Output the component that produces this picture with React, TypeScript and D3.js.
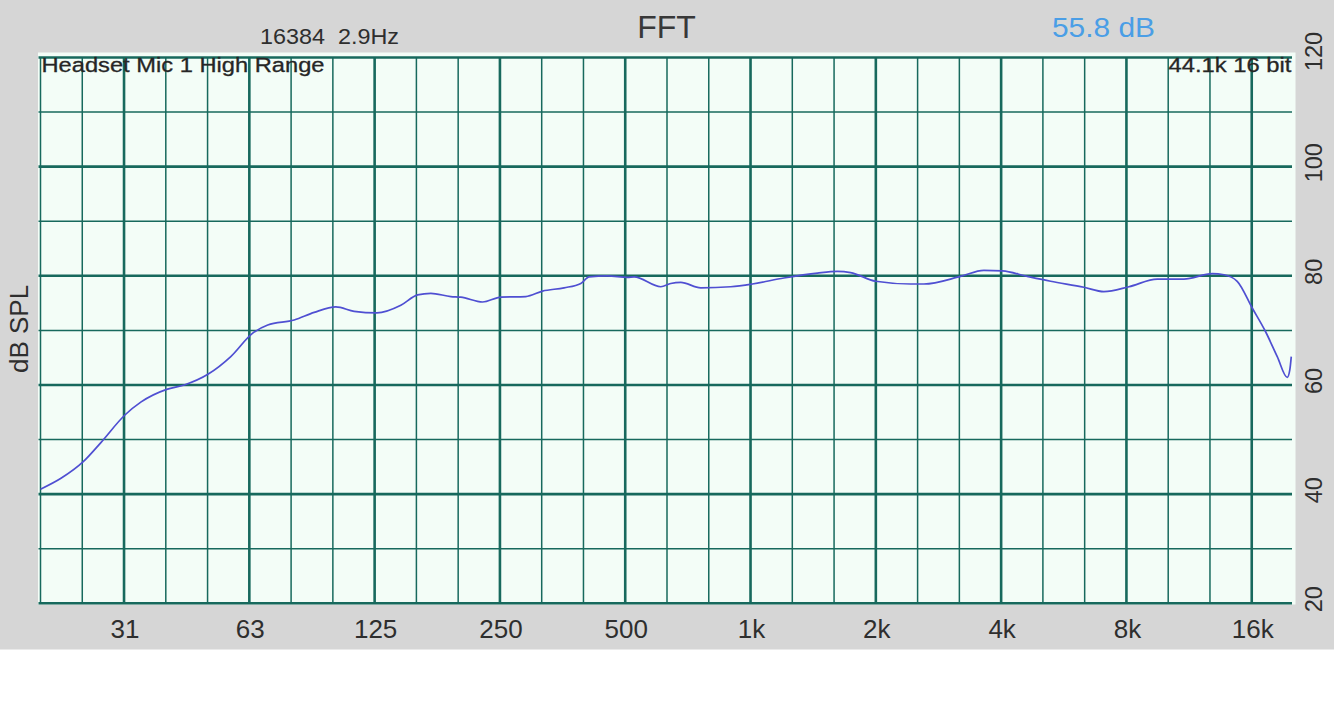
import React from "react";
import * as d3 from "d3";

// ---- data ----
const freqs: number[] = [20, 22.4, 25.3, 27.9, 31.9, 34.9, 40.2, 44.3, 50.6, 57.3, 64.7, 70.3, 81.4, 90.9, 102.5, 113.4, 128.6, 146.8, 161, 173.3, 193.6, 204.6, 230.7, 255.2, 293, 321.4, 362.2, 397.3, 415.9, 460.5, 514.3, 533.5, 618.3, 653.5, 690.7, 771.4, 910.5, 1026, 1222, 1471, 1642, 1767, 2030, 2463, 2651, 3248, 3694, 4092, 4694, 5343, 6423, 7175, 8241, 9640, 11170, 13070, 13940, 15000, 16300, 17540, 18720, 19790, 20070, 20230];
const levels: number[] = [40.9, 42.9, 45.9, 49.4, 54.5, 56.9, 59.2, 60.0, 62.0, 65.2, 69.5, 71.0, 71.9, 73.3, 74.3, 73.5, 73.2, 74.6, 76.5, 76.8, 76.2, 76.1, 75.2, 76.1, 76.2, 77.2, 77.8, 78.6, 79.8, 80.0, 79.7, 79.8, 78.0, 78.6, 78.8, 77.8, 78.0, 78.5, 79.6, 80.5, 80.8, 80.6, 79.0, 78.5, 78.5, 79.9, 81.0, 80.9, 79.9, 79.0, 77.9, 77.1, 78.0, 79.4, 79.4, 80.4, 80.2, 79.0, 74.1, 69.8, 65.2, 61.4, 62.8, 65.2];

// third-octave grid from 20 Hz
const gridSteps: number[] = d3.range(0, 30);
const xTickLabels: string[] = ["31", "63", "125", "250", "500", "1k", "2k", "4k", "8k", "16k"];
const xTickSteps: number[] = [2, 5, 8, 11, 14, 17, 20, 23, 26, 29];
const yGridValues: number[] = [20, 30, 40, 50, 60, 70, 80, 90, 100, 110, 120];
const yTickValues: number[] = [20, 40, 60, 80, 100, 120];

const titleText = "FFT";
const fftSizeText = "16384  2.9Hz";
const levelText = "55.8 dB";
const deviceText = "Headset Mic 1 High Range";
const formatText = "44.1k 16 bit";
const yAxisTitle = "dB SPL";

const W = 1334;
const H = 710;
const FONT = "'Liberation Sans', Arial, Helvetica, sans-serif";
const GRID = "#17695d";

export default function App() {
  const x = d3.scaleLog().domain([20, 20480]).range([40.5, 1293.5]);
  const y = d3.scaleLinear().domain([20, 120]).range([603.3, 57.5]);
  const gridFreq = (k: number) => 20 * Math.pow(2, k / 3);

  const pts: [number, number][] = freqs.map((f, i) => [f, levels[i]]);
  const line = d3
    .line<[number, number]>()
    .x((d) => x(d[0]))
    .y((d) => y(d[1]))
    .curve(d3.curveMonotoneX);

  const xl = 38.5;
  const xr = 1292;

  return (
    <svg
      width={W}
      height={H}
      style={{ position: "absolute", left: 0, top: 0, display: "block" }}
      fontFamily={FONT}
    >
      <rect x={0} y={0} width={W} height={H} fill="#ffffff" />
      <rect x={0} y={0} width={W} height={649.5} fill="#d6d6d6" />
      {/* plot background */}
      <rect x={38} y={52.5} width={1257.5} height={552} fill="#f3fdf7" />

      {/* horizontal grid */}
      {yGridValues.map((v) => (
        <line
          key={"h" + v}
          x1={xl}
          x2={xr}
          y1={y(v)}
          y2={y(v)}
          stroke={GRID}
          strokeWidth={v % 20 === 0 ? 2.6 : 1.5}
        />
      ))}
      {/* vertical grid */}
      {gridSteps.map((k) => (
        <line
          key={"v" + k}
          x1={x(gridFreq(k))}
          x2={x(gridFreq(k))}
          y1={y(120)}
          y2={y(20)}
          stroke={GRID}
          strokeWidth={xTickSteps.includes(k) ? 2.6 : 1.5}
        />
      ))}

      {/* response curve */}
      <path d={line(pts) || ""} fill="none" stroke="#4f4fd2" strokeWidth={1.7} strokeLinejoin="round" />

      {/* x tick labels */}
      {xTickSteps.map((k, i) => (
        <text
          key={"xt" + k}
          x={x(gridFreq(k)) + 1}
          y={638}
          fontSize={26}
          textAnchor="middle"
          fill="#2e2e2e"
        >
          {xTickLabels[i]}
        </text>
      ))}

      {/* y tick labels (right, rotated) */}
      {yTickValues.map((v) => (
        <text
          key={"yt" + v}
          transform={`translate(1321.5, ${v === 120 ? y(v) - 6 : y(v) - 4}) rotate(-90)`}
          fontSize={23.5}
          textAnchor="middle"
          fill="#2e2e2e"
        >
          {v}
        </text>
      ))}

      {/* y axis title */}
      <text
        transform={`translate(28, 329) rotate(-90)`}
        fontSize={26}
        textAnchor="middle"
        fill="#2e2e2e"
      >
        {yAxisTitle}
      </text>

      {/* header texts */}
      <text x={666.5} y={38.3} fontSize={32} textAnchor="middle" fill="#383838">
        {titleText}
      </text>
      <text
        x={260}
        y={44.3}
        fontSize={22}
        fill="#2e2e2e"
        style={{ whiteSpace: "pre" }}
        textLength={139}
        lengthAdjust="spacingAndGlyphs"
      >
        {fftSizeText}
      </text>
      <text x={1052} y={36.7} fontSize={28} fill="#4a9ee6" textLength={103} lengthAdjust="spacingAndGlyphs">
        {levelText}
      </text>
      <text
        x={41.5}
        y={72}
        fontSize={20.5}
        fill="#262626"
        stroke="#262626"
        strokeWidth={0.3}
        textLength={283}
        lengthAdjust="spacingAndGlyphs"
      >
        {deviceText}
      </text>
      <text
        x={1168.5}
        y={72}
        fontSize={21}
        fill="#262626"
        stroke="#262626"
        strokeWidth={0.3}
        textLength={123}
        lengthAdjust="spacingAndGlyphs"
      >
        {formatText}
      </text>
    </svg>
  );
}
